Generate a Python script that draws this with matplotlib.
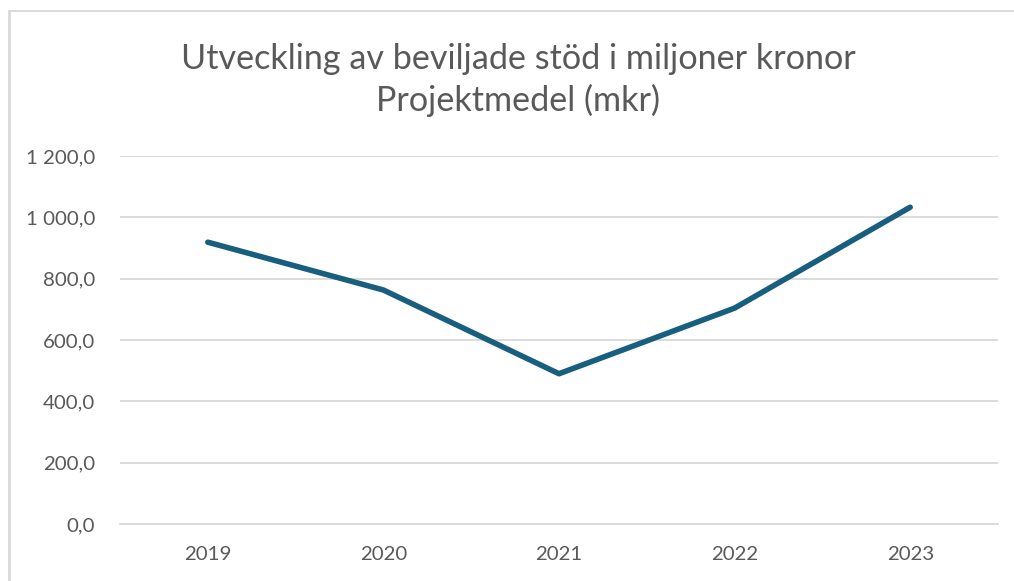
import matplotlib.pyplot as plt
from matplotlib.lines import Line2D

years = ["2019", "2020", "2021", "2022", "2023"]
projektmedel = [919, 763, 490, 704, 1033]
yticks = [0, 200, 400, 600, 800, 1000, 1200]
ytick_labels = ["0,0", "200,0", "400,0", "600,0", "800,0", "1 000,0", "1 200,0"]

plt.rcParams['font.family'] = ['Lato', 'DejaVu Sans']

W, H = 1014, 581
fig = plt.figure(figsize=(W / 100, H / 100), dpi=100)
ax = fig.add_axes([120 / W, (H - 524) / H, (998 - 120) / W, (524 - 156) / H])

x = list(range(len(years)))
ax.plot(x, projektmedel, color='#175e7f', lw=4, solid_capstyle='round', solid_joinstyle='round', zorder=3)

ax.set_xlim(-0.5, len(years) - 0.5)
ax.set_ylim(0, 1200)
ax.set_xticks(x)
ax.set_xticklabels(years)
ax.set_yticks(yticks)
ax.set_yticklabels(ytick_labels)
ax.tick_params(length=0, labelsize=14.7, labelcolor='#595959')
ax.tick_params(axis='y', pad=18)
ax.tick_params(axis='x', pad=16)
ax.grid(axis='y', color='#d9d9d9', lw=1.3)
for s in ax.spines.values():
    s.set_visible(False)
ax.spines['bottom'].set_visible(True)
ax.spines['bottom'].set_color('#d9d9d9')
ax.spines['bottom'].set_linewidth(1.3)

fig.text(518 / W, (H - 80) / H, "Utveckling av beviljade stöd i miljoner kronor\nProjektmedel (mkr)",
         ha='center', va='center', fontsize=24.6, color='#595959', linespacing=1.32)

# outer chart border (top and left visible)
fig.add_artist(Line2D([9 / W, 9 / W], [0, (H - 11) / H], color='#d9d9d9', lw=2, transform=fig.transFigure))
fig.add_artist(Line2D([9 / W, 1], [(H - 11) / H, (H - 11) / H], color='#d9d9d9', lw=1.3, transform=fig.transFigure))

fig.savefig("out.png", dpi=100)
